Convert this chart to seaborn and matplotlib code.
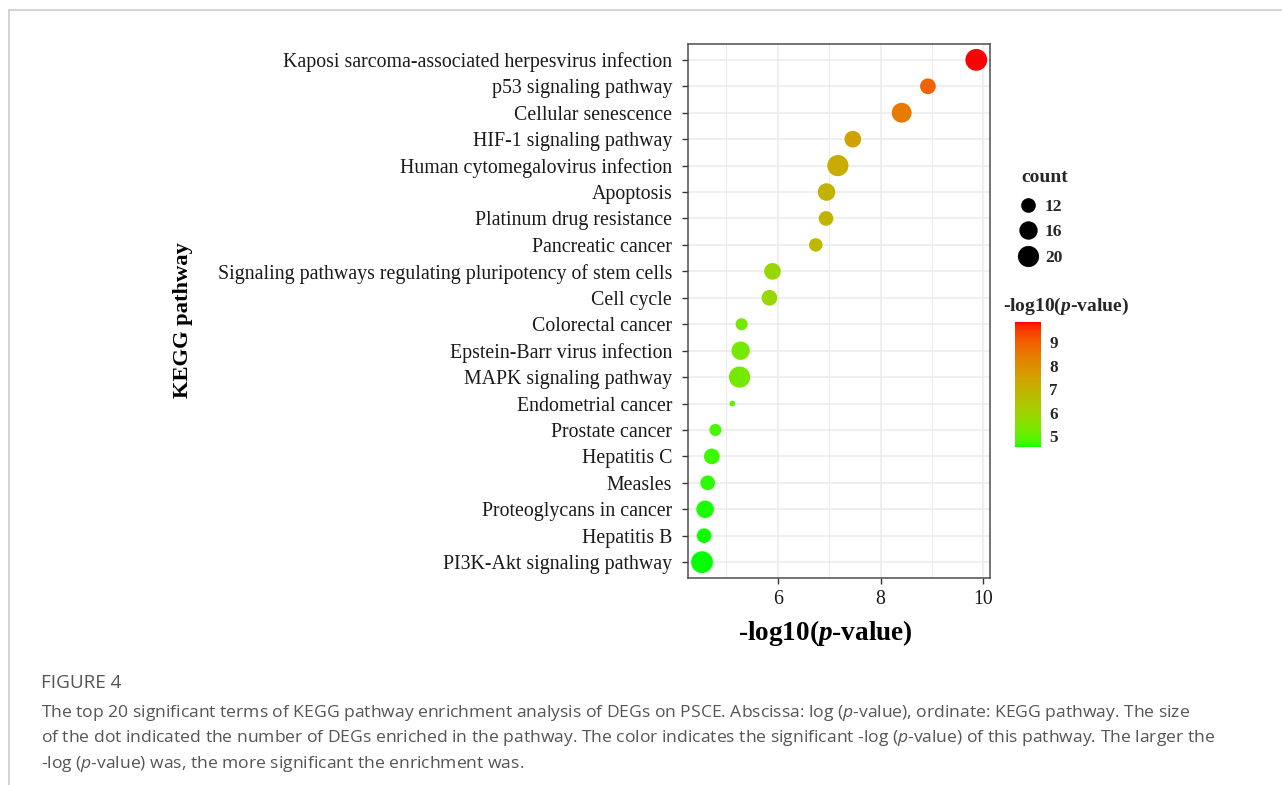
import numpy as np
import pandas as pd
import matplotlib
matplotlib.use("Agg")
import matplotlib.pyplot as plt
import seaborn as sns
from matplotlib.colors import ListedColormap, Normalize
from matplotlib.lines import Line2D
from matplotlib.cm import ScalarMappable

# ---------------- data ----------------
pathways = [
    "Kaposi sarcoma-associated herpesvirus infection",
    "p53 signaling pathway",
    "Cellular senescence",
    "HIF-1 signaling pathway",
    "Human cytomegalovirus infection",
    "Apoptosis",
    "Platinum drug resistance",
    "Pancreatic cancer",
    "Signaling pathways regulating pluripotency of stem cells",
    "Cell cycle",
    "Colorectal cancer",
    "Epstein-Barr virus infection",
    "MAPK signaling pathway",
    "Endometrial cancer",
    "Prostate cancer",
    "Hepatitis C",
    "Measles",
    "Proteoglycans in cancer",
    "Hepatitis B",
    "PI3K-Akt signaling pathway",
]
neg_log10_p = [9.86, 8.92, 8.41, 7.46, 7.17, 6.95, 6.94, 6.74, 5.90, 5.84,
               5.30, 5.28, 5.26, 5.12, 4.79, 4.72, 4.64, 4.59, 4.57, 4.53]
counts = [21, 13, 18, 14, 20, 15, 12, 11, 14, 13,
          10, 16, 20, 8, 10, 13, 12, 15, 12, 21]
x_ticks = [6, 8, 10]
size_legend_counts = [12, 16, 20]
cbar_ticks = [5, 6, 7, 8, 9]

df = pd.DataFrame({"pathway": pathways, "neglog": neg_log10_p, "count": counts})

# ---------------- style ----------------
sns.set_style("white")
plt.rcParams["font.family"] = ["Liberation Serif", "DejaVu Serif"]
plt.rcParams["mathtext.fontset"] = "custom"
plt.rcParams["mathtext.bfit"] = "Liberation Serif:italic:bold"
plt.rcParams["mathtext.it"] = "Open Sans:italic"
plt.rcParams["mathtext.rm"] = "Open Sans"

# green -> red gradient interpolated in CIE Lab (like ggplot2)
_M = np.array([[0.4124564, 0.3575761, 0.1804375],
               [0.2126729, 0.7151522, 0.0721750],
               [0.0193339, 0.1191920, 0.9503041]])
_W = np.array([0.95047, 1.0, 1.08883])


def srgb_to_lab(rgb):
    rgb = np.asarray(rgb, float)
    lin = np.where(rgb <= 0.04045, rgb / 12.92, ((rgb + 0.055) / 1.055) ** 2.4)
    xyz = lin @ _M.T / _W
    d = 6 / 29
    f = np.where(xyz > d ** 3, np.cbrt(xyz), xyz / (3 * d * d) + 4 / 29)
    return np.stack([116 * f[..., 1] - 16,
                     500 * (f[..., 0] - f[..., 1]),
                     200 * (f[..., 1] - f[..., 2])], -1)


def lab_to_srgb(lab):
    fy = (lab[..., 0] + 16) / 116
    fx = fy + lab[..., 1] / 500
    fz = fy - lab[..., 2] / 200
    d = 6 / 29

    def finv(t):
        return np.where(t > d, t ** 3, 3 * d * d * (t - 4 / 29))

    xyz = np.stack([finv(fx), finv(fy), finv(fz)], -1) * _W
    lin = np.clip(xyz @ np.linalg.inv(_M).T, 0, 1)
    rgb = np.where(lin <= 0.0031308, 12.92 * lin, 1.055 * lin ** (1 / 2.4) - 0.055)
    return np.clip(rgb, 0, 1)


lab_lo = srgb_to_lab([0.0, 1.0, 0.0])
lab_hi = srgb_to_lab([1.0, 0.0, 0.0])
tt = np.linspace(0, 1, 256)[:, None]
cmap = ListedColormap(lab_to_srgb(lab_lo + (lab_hi - lab_lo) * tt))
vmin, vmax = min(neg_log10_p), max(neg_log10_p)
norm = Normalize(vmin=vmin, vmax=vmax)

# size scale (area scale like ggplot2)
cmin, cmax = min(counts), max(counts)


def diam_pt(c):
    px = 5.8 + 16.0 * np.sqrt((c - cmin) / (cmax - cmin))
    return px * 0.72


sizes = {c: diam_pt(c) ** 2 for c in sorted(set(counts))}

# ---------------- figure ----------------
W, H = 1282, 785
fig = plt.figure(figsize=(W / 100, H / 100), dpi=100)
ax_l, ax_r, ax_t, ax_b = 688.3, 990.0, 44.0, 578.0
ax = fig.add_axes([ax_l / W, 1 - ax_b / H, (ax_r - ax_l) / W, (ax_b - ax_t) / H])

sns.scatterplot(data=df, x="neglog", y="pathway", hue="neglog", palette=cmap,
                hue_norm=norm, size="count", sizes=sizes, legend=False,
                linewidth=0, ax=ax, zorder=3)

span = vmax - vmin
ax.set_xlim(vmin - 0.05 * span, vmax + 0.05 * span)
ax.set_ylim(len(pathways) - 0.4, -0.6)
ax.set_xticks(x_ticks)
ax.set_xticklabels([str(v) for v in x_ticks])
ax.set_xticks([5, 7, 9], minor=True)
ax.set_axisbelow(True)
ax.grid(which="major", axis="both", color="#EBEBEB", lw=1.1)
ax.grid(which="minor", axis="x", color="#EBEBEB", lw=0.7)
for s in ax.spines.values():
    s.set_color("#4d4d4d")
    s.set_linewidth(1.1)
ax.tick_params(axis="both", which="major", length=4, width=1.0, color="#333333",
               labelsize=14.3, labelcolor="#1a1a1a")
ax.tick_params(axis="y", pad=7.6)
ax.tick_params(axis="x", pad=4.5)
ax.tick_params(which="minor", length=0)
ax.tick_params(left=True, bottom=True)

ax.set_xlabel(r"-log10($\mathbfit{p}$-value)", fontsize=19.6, fontweight="bold", color="black")
ax.xaxis.label.set_va("center")
ax.xaxis.set_label_coords((825 - ax_l) / (ax_r - ax_l), (ax_b - 633) / (ax_b - ax_t))
ax.set_ylabel("KEGG pathway", fontsize=16.2, fontweight="bold", color="black")
ax.yaxis.label.set_va("center")
ax.yaxis.set_label_coords((183 - ax_l) / (ax_r - ax_l), (ax_b - 320) / (ax_b - ax_t))

# size legend
fig.text(1021 / W, 1 - 178 / H, "count", fontsize=14, fontweight="bold",
         ha="left", va="center")
handles = [Line2D([], [], marker="o", ls="", color="black", markeredgewidth=0,
                  markersize=diam_pt(c)) for c in size_legend_counts]
leg = ax.legend(handles, [str(c) for c in size_legend_counts],
                loc="upper left", bbox_to_anchor=(1018 / W, 1 - 198.5 / H),
                bbox_transform=fig.transFigure, frameon=False,
                prop={"family": "Liberation Serif", "weight": "bold", "size": 12.5},
                handlelength=1.1, handletextpad=0.45, labelspacing=0.54,
                borderpad=0, borderaxespad=0)

# colour bar
cax = fig.add_axes([1015 / W, 1 - 447.3 / H, 25.7 / W, 125 / H])
cb = fig.colorbar(ScalarMappable(norm=norm, cmap=cmap), cax=cax)
cb.outline.set_visible(False)
cb.set_ticks(cbar_ticks)
cax.tick_params(direction="in", color="white", length=5, width=0.8,
                left=True, right=True, labelleft=False, labelright=True,
                labelsize=12.3, pad=6)
for lab in cax.get_yticklabels():
    lab.set_fontweight("bold")
fig.text(1003 / W, 1 - 306.7 / H, r"-log10($\mathbfit{p}$-value)", fontsize=14,
         fontweight="bold", ha="left", va="center")

# figure frame lines
fig.add_artist(Line2D([9 / W, 1], [1 - 9.5 / H, 1 - 9.5 / H], transform=fig.transFigure,
                      color="#c8c8c8", lw=1.1))
fig.add_artist(Line2D([9 / W, 9 / W], [0, 1 - 9.5 / H], transform=fig.transFigure,
                      color="#c8c8c8", lw=1.1))

# caption
cap_font = ["Open Sans", "DejaVu Sans"]
fig.text(41 / W, 1 - 683 / H, "FIGURE 4", fontsize=13.6, color="#555555",
         family=cap_font, ha="left", va="center")
cap_lines = [
    r"The top 20 significant terms of KEGG pathway enrichment analysis of DEGs on PSCE. Abscissa: log ($p$-value), ordinate: KEGG pathway. The size",
    r"of the dot indicated the number of DEGs enriched in the pathway. The color indicates the significant -log ($p$-value) of this pathway. The larger the",
    r"-log ($p$-value) was, the more significant the enrichment was.",
]
for i, line in enumerate(cap_lines):
    fig.text(41 / W, 1 - (713 + 25.5 * i) / H, line, fontsize=12.6, color="#555555",
             family=cap_font, ha="left", va="center")

fig.savefig("out.png", dpi=100)
